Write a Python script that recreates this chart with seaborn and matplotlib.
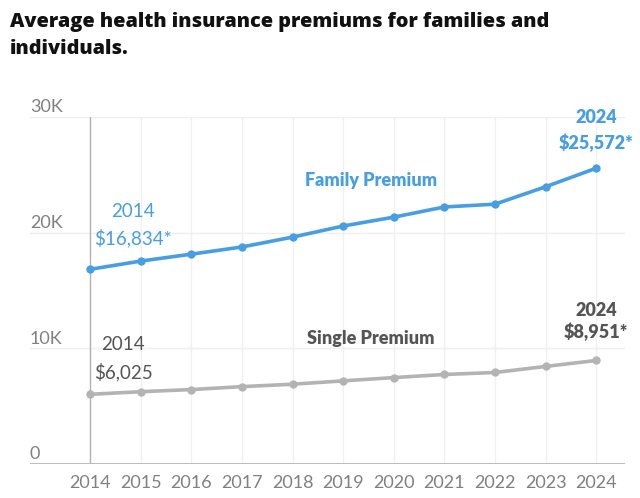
import matplotlib
matplotlib.use("Agg")
import matplotlib.pyplot as plt
import matplotlib.transforms as mtransforms
import pandas as pd
import seaborn as sns

# ----- Data -----
years = [2014, 2015, 2016, 2017, 2018, 2019, 2020, 2021, 2022, 2023, 2024]
family_premium = [16834, 17545, 18142, 18764, 19616, 20576, 21342, 22221, 22463, 23968, 25572]
single_premium = [6025, 6251, 6435, 6690, 6896, 7188, 7470, 7739, 7911, 8435, 8951]
y_ticks = [0, 10000, 20000, 30000]
y_tick_labels = ["0", "10K", "20K", "30K"]

BLUE = "#479ee2"
GRAY_LINE = "#b3b3b3"
GRAY_TEXT = "#555555"
AXIS_TEXT = "#808080"

sns.set_style("white")
plt.rcParams["font.family"] = ["Lato", "DejaVu Sans"]

df = pd.DataFrame({
    "year": years * 2,
    "premium": family_premium + single_premium,
    "series": ["Family"] * len(years) + ["Single"] * len(years),
})

fig = plt.figure(figsize=(6.4, 4.98), dpi=100)
ax = fig.add_axes([30 / 640, 34 / 498, 595 / 640, 347 / 498])

sns.lineplot(
    data=df, x="year", y="premium", hue="series",
    palette={"Family": BLUE, "Single": GRAY_LINE},
    marker="o", markersize=6, markeredgewidth=0, linewidth=2.6,
    legend=False, ax=ax, zorder=3,
)

ax.set_xlim(2012.81, 2024.57)
ax.set_ylim(0, 30000)

# grid
for y in y_ticks[1:]:
    ax.axhline(y, color="#efefef", linewidth=1, zorder=0)
for yr in years[1:]:
    ax.axvline(yr, color="#f0f0f0", linewidth=1, zorder=0)
ax.axvline(years[0], color="#b0b0b0", linewidth=1, zorder=1)
ax.axhline(0, color="#b0b0b0", linewidth=1.2, zorder=1)

for s in ax.spines.values():
    s.set_visible(False)

ax.set_xticks(years)
ax.set_xticklabels([str(y) for y in years], fontsize=13, color=AXIS_TEXT)
ax.tick_params(axis="x", length=0, pad=8)
ax.set_yticks([])
ax.set_xlabel("")
ax.set_ylabel("")

trans = mtransforms.blended_transform_factory(ax.transAxes, ax.transData)
for y, lab in zip(y_ticks, y_tick_labels):
    ax.text(0.0, y + 850, lab, transform=trans, fontsize=13, color=AXIS_TEXT,
            ha="left", va="center")

# annotations
ax.text(2014.85, 21800, "2014", color=BLUE, fontsize=13.5, ha="center", va="center")
ax.text(2014.85, 19550, "$16,834*", color=BLUE, fontsize=13.5, ha="center", va="center")
ax.text(2019.55, 24550, "Family Premium", color=BLUE, fontsize=13,
        fontweight="heavy", ha="center", va="center")
ax.text(2024.0, 29950, "2024", color=BLUE, fontsize=13, fontweight="heavy",
        ha="center", va="center")
ax.text(2024.0, 27800, "$25,572*", color=BLUE, fontsize=13, fontweight="heavy",
        ha="center", va="center")

ax.text(2014.65, 10300, "2014", color=GRAY_TEXT, fontsize=13.5, ha="center", va="center")
ax.text(2014.65, 7950, "$6,025", color=GRAY_TEXT, fontsize=13.5, ha="center", va="center")
ax.text(2019.55, 10850, "Single Premium", color=GRAY_TEXT, fontsize=13,
        fontweight="heavy", ha="center", va="center")
ax.text(2024.0, 13250, "2024", color=GRAY_TEXT, fontsize=13, fontweight="heavy",
        ha="center", va="center")
ax.text(2024.0, 11450, "$8,951*", color=GRAY_TEXT, fontsize=13, fontweight="heavy",
        ha="center", va="center")

fig.text(10 / 640, 1 - 22 / 498, "Average health insurance premiums for families and",
         fontsize=14.3, fontweight="heavy", color="#111111", ha="left", va="center",
         family=["Open Sans", "DejaVu Sans"])
fig.text(10 / 640, 1 - 49 / 498, "individuals.",
         fontsize=14.3, fontweight="heavy", color="#111111", ha="left", va="center",
         family=["Open Sans", "DejaVu Sans"])

fig.savefig("out.png", dpi=100)
